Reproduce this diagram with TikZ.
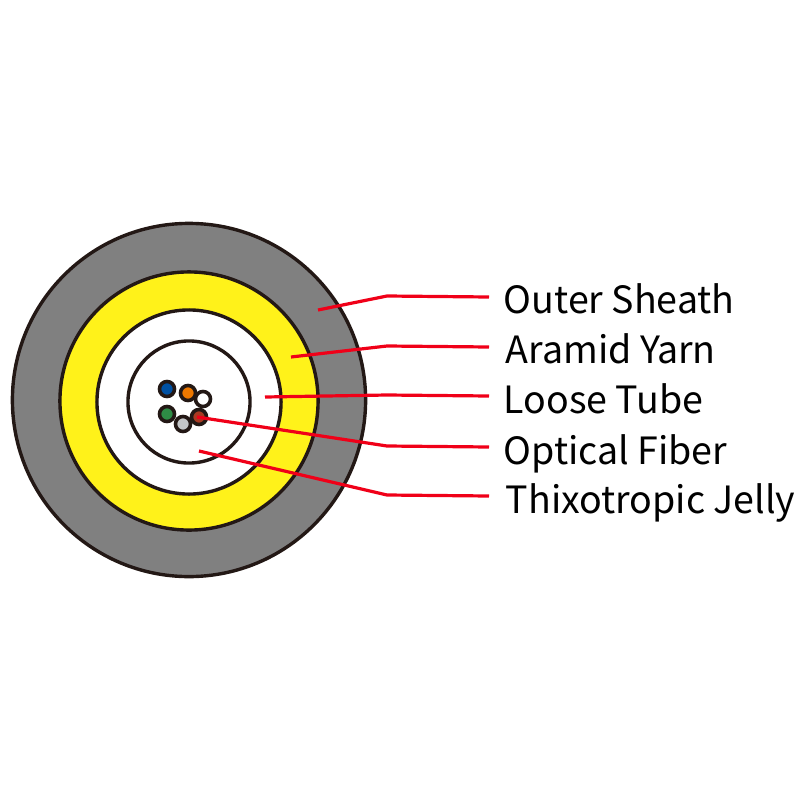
\documentclass[tikz,border=0pt]{standalone}
\usepackage{fontspec}
\usepackage{xcolor}
\setmainfont{Noto Sans CJK SC}
\definecolor{ringline}{HTML}{231815}
\definecolor{sheathgray}{HTML}{808080}
\definecolor{yarnyellow}{HTML}{FFF21A}
\definecolor{leaderred}{HTML}{F00018}
\definecolor{fiberbluefill}{HTML}{0050A2}
\definecolor{fiberorangefill}{HTML}{EE7800}
\definecolor{fibergreenfill}{HTML}{2E8B45}
\definecolor{fibergrayfill}{HTML}{C4C6C8}
\definecolor{fiberredfill}{HTML}{A83A22}

\begin{document}
\begin{tikzpicture}[
  x=0.01cm, y=-0.01cm,
  ring/.style={draw=ringline, line width=0.034cm, circle, inner sep=0pt},
  fiber/.style={ring, line width=0.036cm, minimum size=0.15cm},
  leader/.style={draw=leaderred, line width=0.032cm},
  tag/.style={anchor=base west, inner sep=0pt, font=\fontsize{10.68pt}{13pt}\selectfont, text=black}
]
\useasboundingbox (0,0) rectangle (800,800);

\node[ring, fill=sheathgray, minimum size=3.53cm] (sheath) at (189,400) {};
\node[ring, fill=yarnyellow, minimum size=2.58cm] (yarn) at (189,401) {};
\node[ring, fill=white, minimum size=1.84cm] (outertube) at (189,402) {};
\node[ring, fill=white, minimum size=1.22cm] (tube) at (189,402) {};

\node[fiber, fill=fiberbluefill] (fiberblue) at (167,389) {};
\node[fiber, fill=white] (fiberwhite) at (203,399) {};
\node[fiber, fill=fiberorangefill] (fiberorange) at (188,393) {};
\node[fiber, fill=fibergreenfill] (fibergreen) at (167,414) {};
\node[fiber, fill=fibergrayfill] (fibergray) at (183,424) {};
\node[fiber, fill=fiberredfill] (fiberred) at (199,417) {};

\node[tag] (lsheath) at (503,313) {Outer Sheath};
\node[tag] (lyarn) at (505,363) {Aramid Yarn};
\node[tag] (ltube) at (503,413) {Loose Tube};
\node[tag] (lfiber) at (503,464) {Optical Fiber};
\node[tag] (ljelly) at (505,513) {Thixotropic Jelly};

% leader ends
\coordinate (asheath) at (318,310);
\coordinate (ayarn) at (291,357);
\coordinate (atube) at (265,397);
\coordinate (afiber) at (197,417);
\coordinate (ajelly) at (199,451);
\coordinate (esheath) at (489,297);
\coordinate (eyarn) at (489,347);
\coordinate (etube) at (489,396);
\coordinate (efiber) at (489,447);
\coordinate (ejelly) at (489,496);

\draw[leader] (asheath) -- (387,296) -- (esheath);
\draw[leader] (ayarn) -- (387,346) -- (eyarn);
\draw[leader] (atube) -- (387,395) -- (etube);
\draw[leader] (afiber) -- (387,446) -- (efiber);
\draw[leader] (ajelly) -- (387,495) -- (ejelly);
\end{tikzpicture}
\end{document}
